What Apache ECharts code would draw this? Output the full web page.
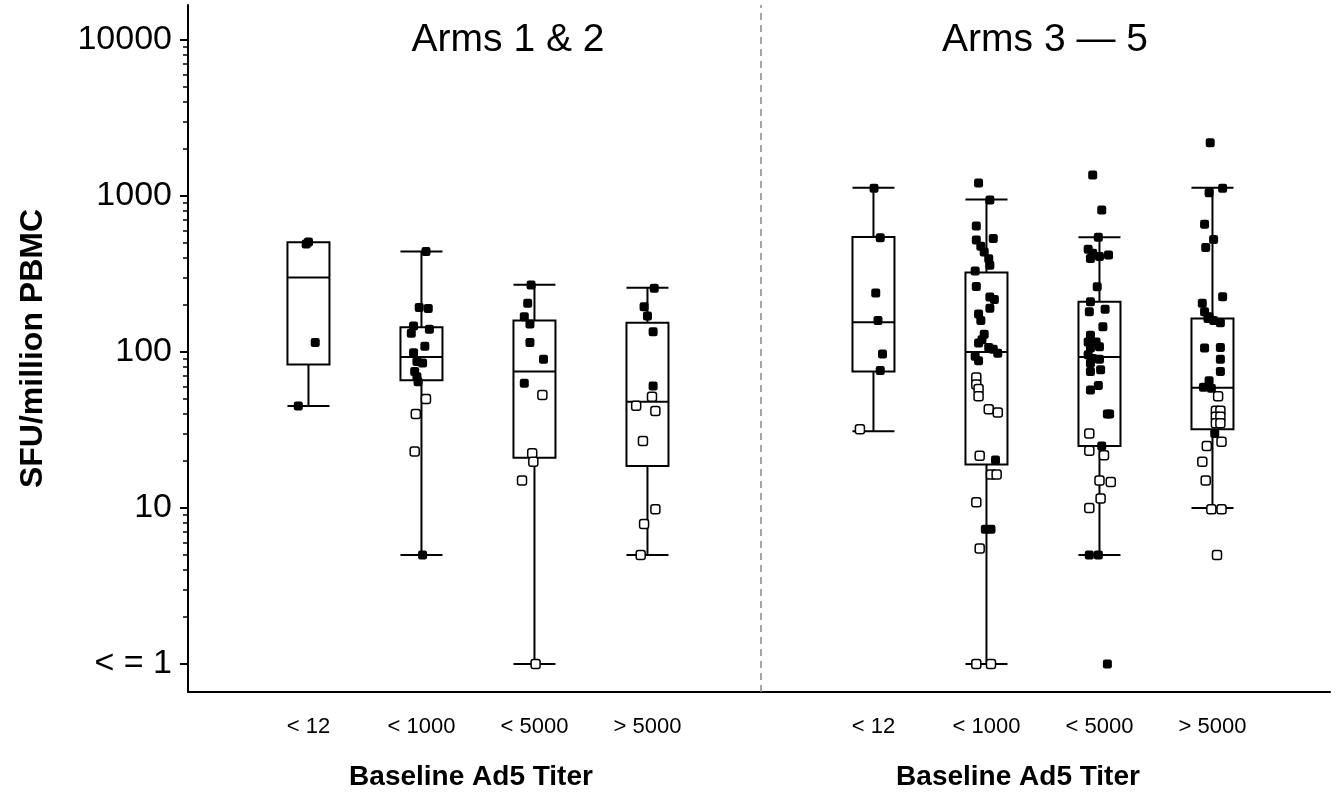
<!DOCTYPE html>
<html>
<head>
<meta charset="utf-8">
<script src="https://cdn.jsdelivr.net/npm/echarts@6/dist/echarts.min.js"></script>
<style>
  html, body { margin: 0; padding: 0; background: #fff; }
  #chart { width: 1338px; height: 801px; }
</style>
</head>
<body>
<div id="chart"></div>
<script>
// categories / labels
const titerGroups = ["< 12", "< 1000", "< 5000", "> 5000"];
const panelTitles = ["Arms 1 & 2", "Arms 3 \u2014 5"];
const yTickValues = [1, 10, 100, 1000, 10000];
const yTickLabels = ["< = 1", "10", "100", "1000", "10000"];

// box stats [min, Q1, median, Q3, max]
const boxArms12 = [
  [45, 83, 300, 505, 505],
  [5, 66, 93, 144, 440],
  [1, 21, 75, 159, 270],
  [5, 18.6, 48, 154, 258],
];
const boxArms35 = [
  [31, 75, 155, 545, 1130],
  [1, 19, 100, 323, 950],
  [5, 25, 93, 210, 543],
  [10, 32, 59, 164, 1130],
];

// points [jitter, value, filled]
const ptsA12_lt12 = [[-0.02, 492, 1], [0.0, 508, 1], [0.06, 115, 1], [-0.09, 45, 1]];
const ptsA12_lt1000 = [
  [0.04, 440, 1], [-0.02, 193, 1], [0.06, 190, 1], [-0.07, 147, 1], [0.07, 140, 1],
  [-0.09, 132, 1], [0.03, 109, 1], [-0.07, 99, 1], [-0.04, 87, 1], [0.01, 85, 1],
  [-0.06, 75, 1], [-0.04, 69.5, 1], [-0.03, 64.5, 1], [0.04, 50, 0], [-0.05, 40, 0],
  [-0.06, 23, 0], [0.01, 5, 1],
];
const ptsA12_lt5000 = [
  [-0.03, 269, 1], [-0.06, 205, 1], [-0.09, 168, 1], [-0.04, 151, 1], [-0.04, 115, 1],
  [0.08, 90, 1], [-0.09, 63, 1], [0.07, 53, 0], [-0.02, 22.4, 0], [-0.01, 19.8, 0],
  [-0.11, 15, 0], [0.01, 1, 0],
];
const ptsA12_gt5000 = [
  [0.06, 256, 1], [-0.03, 195, 1], [0.0, 170, 1], [0.05, 135, 1], [0.05, 60.5, 1],
  [0.04, 51.7, 0], [-0.1, 45.3, 0], [0.07, 41.9, 0], [-0.04, 26.9, 0], [0.07, 9.8, 0],
  [-0.03, 7.9, 0], [-0.06, 5, 0],
];
const ptsA35_lt12 = [
  [0.005, 1120, 1], [0.06, 540, 1], [0.02, 239, 1], [0.04, 159, 1], [0.08, 97, 1],
  [0.06, 76, 1], [-0.12, 32, 0],
];
const ptsA35_lt1000 = [
  [-0.07, 1210, 1], [0.03, 943, 1], [-0.09, 643, 1], [0.06, 534, 1], [-0.09, 523, 1],
  [-0.05, 476, 1], [-0.02, 437, 1], [0.02, 396, 1], [0.03, 360, 1], [-0.1, 331, 1],
  [-0.09, 263, 1], [0.03, 225, 1], [0.07, 217, 1], [0.03, 191, 1], [-0.07, 175, 1],
  [-0.05, 159, 1], [-0.02, 130, 1], [-0.04, 120, 1], [-0.07, 114, 1], [0.02, 107, 1],
  [0.06, 104, 1], [0.1, 98, 1], [-0.1, 94, 1], [-0.07, 88, 1], [-0.09, 68.6, 0],
  [-0.09, 62, 0], [-0.07, 58, 0], [-0.07, 52, 0], [0.02, 43, 0], [0.1, 41, 0],
  [-0.06, 21.6, 0], [0.08, 20.3, 1], [0.04, 16.4, 0], [0.09, 16.4, 0], [-0.09, 10.9, 0],
  [-0.01, 7.3, 1], [0.04, 7.3, 1], [-0.06, 5.5, 0], [-0.09, 1, 0], [0.04, 1, 0],
];
const ptsA35_lt5000 = [
  [-0.06, 1365, 1], [0.02, 813, 1], [-0.01, 543, 1], [-0.1, 455, 1], [-0.06, 430, 1],
  [0.08, 419, 1], [-0.08, 398, 1], [0.0, 410, 1], [-0.02, 262, 1], [-0.08, 210, 1],
  [0.05, 188, 1], [-0.09, 181, 1], [0.03, 145, 1], [-0.08, 128, 1], [-0.1, 116, 1],
  [-0.03, 116, 1], [-0.08, 106, 1], [0.0, 108, 1], [-0.1, 96, 1], [-0.06, 91, 1],
  [0.0, 90, 1], [-0.08, 85, 1], [-0.08, 75, 1], [0.01, 77, 1], [-0.08, 57, 1],
  [-0.01, 61, 1], [0.07, 40, 1], [0.09, 40, 1], [-0.09, 30, 0], [0.02, 25, 1],
  [-0.09, 23.3, 0], [0.04, 21.8, 0], [0.0, 15, 0], [0.1, 14.7, 0], [0.01, 11.5, 0],
  [-0.09, 10, 0], [-0.09, 5, 1], [-0.01, 5, 1], [0.07, 1, 1],
];
const ptsA35_gt5000 = [
  [-0.02, 2197, 1], [-0.03, 1050, 1], [0.09, 1120, 1], [-0.07, 659, 1], [0.01, 527, 1],
  [-0.06, 467, 1], [0.09, 226, 1], [-0.09, 205, 1], [-0.07, 181, 1], [-0.03, 168, 1],
  [-0.04, 164, 1], [0.01, 159, 1], [0.07, 154, 1], [-0.07, 106, 1], [0.07, 107, 1],
  [0.07, 90, 1], [0.07, 75, 1], [-0.03, 65.5, 1], [-0.08, 59.4, 1], [-0.01, 58.5, 1],
  [0.05, 52, 0], [0.03, 42, 0], [0.07, 42, 0], [0.03, 38.5, 0], [0.07, 38.5, 0],
  [0.03, 34.9, 0], [0.07, 34.9, 0], [0.02, 30, 1], [0.08, 26.6, 0], [-0.05, 25, 0],
  [-0.09, 19.8, 0], [-0.06, 15, 0], [-0.01, 9.8, 0], [0.08, 9.8, 0], [0.04, 5, 0],
];

// slot on the x axis for each box (5 is the divider)
const slotsArms12 = [1, 2, 3, 4];
const slotsArms35 = [6, 7, 8, 9];
const dividerSlot = 5;

const FONT = "'Liberation Sans', Arial, Helvetica, sans-serif";

const allSlots = slotsArms12.concat(slotsArms35);
const allBoxes = boxArms12.concat(boxArms35);
const allPts = [ptsA12_lt12, ptsA12_lt1000, ptsA12_lt5000, ptsA12_gt5000,
  ptsA35_lt12, ptsA35_lt1000, ptsA35_lt5000, ptsA35_gt5000];

const boxData = allBoxes.map((b, i) => [allSlots[i]].concat(b));
const filledData = [];
const openData = [];
allPts.forEach((pts, i) => {
  pts.forEach((p) => {
    (p[2] ? filledData : openData).push([allSlots[i] + p[0], p[1]]);
  });
});

// minor ticks 2..9 in every decade
const minorTicks = [];
[1, 10, 100, 1000].forEach((d) => {
  for (let k = 2; k <= 9; k++) minorTicks.push(d * k);
});

const chart = echarts.init(document.getElementById("chart"));
const option = {
  animation: false,
  backgroundColor: "#fff",
  grid: { left: 188, right: 8, top: 5, bottom: 109, containLabel: false, outerBoundsMode: "none" },
  xAxis: {
    type: "value",
    min: -0.066,
    max: 10.04,
    axisLine: { show: true, onZero: false, lineStyle: { color: "#000", width: 2 } },
    axisTick: { show: false },
    splitLine: { show: false },
    axisLabel: {
      customValues: allSlots,
      formatter: (v) => {
        const i = allSlots.indexOf(Math.round(v));
        return i < 0 ? "" : titerGroups[i % 4];
      },
      color: "#000",
      fontFamily: FONT,
      fontSize: 22,
      margin: 24,
    },
  },
  yAxis: [
    {
      type: "log",
      min: 0.6614,
      max: 16762,
      position: "left",
      name: "SFU/million PBMC",
      nameLocation: "middle",
      nameGap: 139,
      nameTextStyle: { fontFamily: FONT, fontSize: 32, fontWeight: "bold", color: "#000" },
      axisLine: { show: true, onZero: false, lineStyle: { color: "#000", width: 2 } },
      axisTick: { show: true, customValues: yTickValues, length: 8, lineStyle: { color: "#000", width: 2 } },
      splitLine: { show: false },
      axisLabel: {
        customValues: yTickValues,
        formatter: (v) => {
          const i = yTickValues.indexOf(Math.round(v));
          return i < 0 ? "" : yTickLabels[i];
        },
        color: "#000",
        fontFamily: FONT,
        fontSize: 34,
        margin: 16,
      },
    },
    {
      type: "log",
      min: 0.6614,
      max: 16762,
      position: "left",
      offset: 0,
      axisLine: { show: false, onZero: false },
      axisTick: { show: true, customValues: minorTicks, length: 5, lineStyle: { color: "#000", width: 1.5 } },
      axisLabel: { show: false },
      splitLine: { show: false },
    },
  ],
  graphic: [
    { type: "text", x: 508, y: 40, style: { text: panelTitles[0], font: "39px " + FONT, fill: "#000", align: "center", verticalAlign: "middle" } },
    { type: "text", x: 1045, y: 40, style: { text: panelTitles[1], font: "39px " + FONT, fill: "#000", align: "center", verticalAlign: "middle" } },
    { type: "text", x: 471, y: 777, style: { text: "Baseline Ad5 Titer", font: "bold 28px " + FONT, fill: "#000", align: "center", verticalAlign: "middle" } },
    { type: "text", x: 1018, y: 777, style: { text: "Baseline Ad5 Titer", font: "bold 28px " + FONT, fill: "#000", align: "center", verticalAlign: "middle" } },
  ],
  series: [
    {
      type: "boxplot",
      layout: "horizontal",
      boxWidth: [42, 42],
      data: boxData,
      itemStyle: { color: "rgba(0,0,0,0)", borderColor: "#000", borderWidth: 2 },
      z: 2,
    },
    {
      type: "scatter",
      symbol: "roundRect",
      symbolSize: 9,
      data: filledData,
      itemStyle: { color: "#000", opacity: 1 },
      z: 3,
      markLine: {
        silent: true,
        symbol: "none",
        label: { show: false },
        lineStyle: { color: "#888", type: [7, 5], width: 1.5 },
        data: [{ xAxis: dividerSlot }],
      },
    },
    {
      type: "scatter",
      symbol: "roundRect",
      symbolSize: 9,
      data: openData,
      itemStyle: { color: "#fff", borderColor: "#000", borderWidth: 1.5, opacity: 1 },
      z: 4,
    },
  ],
};
chart.setOption(option);
</script>
</body>
</html>
